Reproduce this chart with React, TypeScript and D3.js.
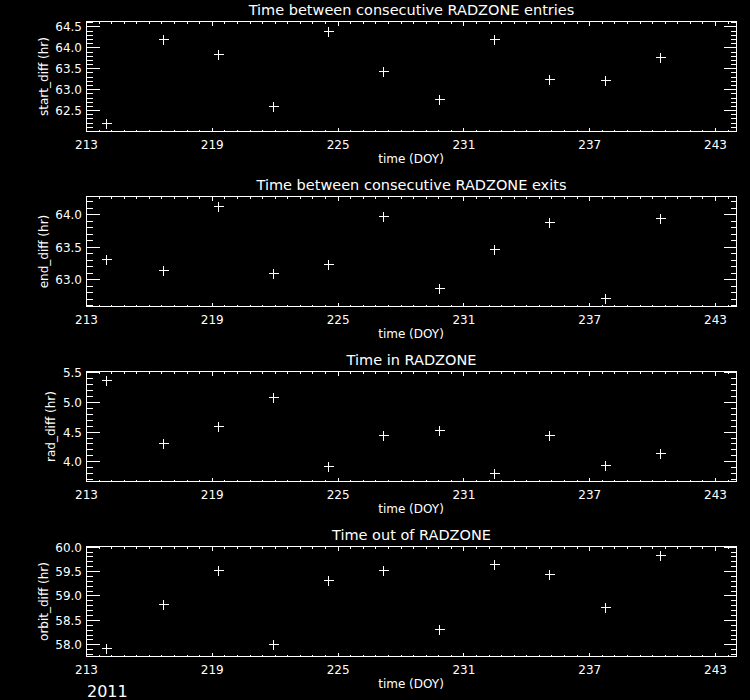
import React from 'react';
import * as d3 from 'd3';

const doy = [213.95, 216.63, 219.25, 221.89, 224.54, 227.16, 229.82, 232.44, 235.06, 237.73, 240.35];
const startDiff = [62.21, 64.21, 63.85, 62.62, 64.41, 63.44, 62.77, 64.21, 63.25, 63.23, 63.78];
const endDiff = [63.32, 63.15, 64.13, 63.11, 63.25, 63.98, 62.87, 63.48, 63.89, 62.72, 63.95];
const radDiff = [5.38, 4.32, 4.61, 5.1, 3.92, 4.46, 4.54, 3.81, 4.46, 3.95, 4.14];
const orbitDiff = [57.94, 58.84, 59.53, 58.01, 59.33, 59.53, 58.32, 59.66, 59.46, 58.78, 59.83];

const xTicks = [213, 219, 225, 231, 237, 243];
const xDomain = [213, 244];
const titles = [
  'Time between consecutive RADZONE entries',
  'Time between consecutive RADZONE exits',
  'Time in RADZONE',
  'Time out of RADZONE',
];
const yLabels = ['start_diff (hr)', 'end_diff (hr)', 'rad_diff (hr)', 'orbit_diff (hr)'];
const yDomains = [
  [62.0, 64.63],
  [62.59, 64.28],
  [3.666, 5.525],
  [57.76, 60.014],
];
const yMajor = [
  [62.5, 63.0, 63.5, 64.0, 64.5],
  [63.0, 63.5, 64.0],
  [4.0, 4.5, 5.0, 5.5],
  [58.0, 58.5, 59.0, 59.5, 60.0],
];
const series = [startDiff, endDiff, radDiff, orbitDiff];
const yearLabel = '2011';
const xLabel = 'time (DOY)';

const FONT = 'DejaVu Sans, sans-serif';
const LEFT = 86.5;
const RIGHT = 736.5;

function Panel({ i }: { i: number }) {
  const top = 21.5 + 175 * i;
  const bottom = 131.5 + 175 * i;
  const x = d3.scaleLinear().domain(xDomain).range([LEFT, RIGHT]);
  const [y0, y1] = yDomains[i];
  const y = d3.scaleLinear().domain([y0, y1]).range([bottom, top]);
  const yMinor = d3
    .range(Math.ceil(y0 * 10 - 1e-6), Math.floor(y1 * 10 + 1e-6) + 1)
    .map((v) => v / 10)
    .filter((v) => !yMajor[i].some((m) => Math.abs(m - v) < 1e-6));
  const xMinor = d3
    .range(0, 52)
    .map((k) => 213 + k * 0.6)
    .filter((v) => v <= 244 + 1e-6 && !xTicks.some((m) => Math.abs(m - v) < 1e-6));
  const maxLabelLen = d3.max(yMajor[i], (v) => v.toFixed(1).length) as number;
  const yLabelX = maxLabelLen >= 4 ? 48 : 55;
  const r = (v: number) => Math.round(v - 0.5) + 0.5;
  const col = 'white';
  return (
    <g>
      <rect x={LEFT} y={top} width={RIGHT - LEFT} height={bottom - top} fill="none" stroke={col} strokeWidth={1} shapeRendering="crispEdges" />
      {xTicks.map((t) => (
        <g key={'xt' + t}>
          <line x1={r(x(t))} x2={r(x(t))} y1={bottom} y2={bottom - 4} stroke={col} shapeRendering="crispEdges" />
          <line x1={r(x(t))} x2={r(x(t))} y1={top} y2={top + 4} stroke={col} shapeRendering="crispEdges" />
          <text x={x(t)} y={bottom + 17} fill={col} fontSize={12} fontFamily={FONT} textAnchor="middle">
            {t}
          </text>
        </g>
      ))}
      {xMinor.map((t) => (
        <g key={'xm' + t}>
          <line x1={r(x(t))} x2={r(x(t))} y1={bottom} y2={bottom - 2} stroke={col} shapeRendering="crispEdges" />
          <line x1={r(x(t))} x2={r(x(t))} y1={top} y2={top + 2} stroke={col} shapeRendering="crispEdges" />
        </g>
      ))}
      {yMajor[i].map((t) => (
        <g key={'yt' + t}>
          <line x1={LEFT} x2={LEFT + 13} y1={r(y(t))} y2={r(y(t))} stroke={col} shapeRendering="crispEdges" />
          <line x1={RIGHT} x2={RIGHT - 13} y1={r(y(t))} y2={r(y(t))} stroke={col} shapeRendering="crispEdges" />
          <text x={82} y={y(t) + 4.5} fill={col} fontSize={12} fontFamily={FONT} textAnchor="end">
            {t.toFixed(1)}
          </text>
        </g>
      ))}
      {yMinor.map((t) => (
        <g key={'ym' + t}>
          <line x1={LEFT} x2={LEFT + 6} y1={r(y(t))} y2={r(y(t))} stroke={col} shapeRendering="crispEdges" />
          <line x1={RIGHT} x2={RIGHT - 6} y1={r(y(t))} y2={r(y(t))} stroke={col} shapeRendering="crispEdges" />
        </g>
      ))}
      <text x={(LEFT + RIGHT) / 2} y={top - 6.5} fill={col} fontSize={14.5} fontFamily={FONT} textAnchor="middle">
        {titles[i]}
      </text>
      <text x={411} y={bottom + 31} fill={col} fontSize={12} fontFamily={FONT} textAnchor="middle">
        {xLabel}
      </text>
      <text
        transform={`translate(${yLabelX},${(top + bottom) / 2}) rotate(-90)`}
        fill={col}
        fontSize={12}
        fontFamily={FONT}
        textAnchor="middle"
      >
        {yLabels[i]}
      </text>
      {series[i].map((v, k) => {
        const cx = Math.round(x(doy[k])) + 0.5;
        const cy = Math.round(y(v)) + 0.5;
        return (
          <path key={'p' + k} d={`M${cx - 5},${cy}H${cx + 5}M${cx},${cy - 5}V${cy + 5}`} stroke={col} strokeWidth={1} fill="none" shapeRendering="crispEdges" />
        );
      })}
    </g>
  );
}

export default function App() {
  return (
    <svg
      width={750}
      height={700}
      style={{ position: 'absolute', left: 0, top: 0, background: 'black', display: 'block' }}
    >
      <rect x={0} y={0} width={750} height={700} fill="black" />
      {[0, 1, 2, 3].map((i) => (
        <Panel key={i} i={i} />
      ))}
      <text x={87} y={697} fill="white" fontSize={16} fontFamily={FONT}>
        {yearLabel}
      </text>
    </svg>
  );
}
